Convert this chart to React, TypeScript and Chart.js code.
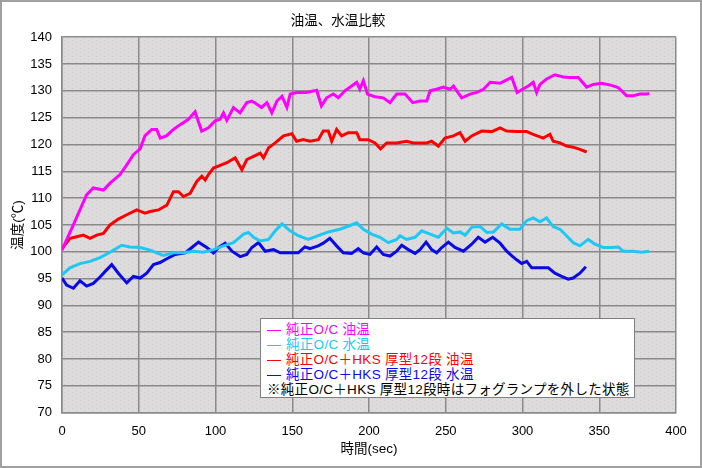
import { useEffect, useRef } from "react";
import { Chart, registerables, type ChartConfiguration, type Plugin } from "chart.js";

Chart.register(...registerables);

// [sec, °C]
const stockOil: Array<[number, number]> = [
  [0, 100.3], [7.4, 105], [16, 110.6], [20.4, 111.9], [27, 111.5], [31.3, 112.8], [37.8, 114.4],
  [42.2, 116.2], [46.5, 118.1], [50.9, 119.2], [54, 121.6], [58.5, 122.8], [61.7, 122.8], [64, 121.2],
  [68, 121.6], [72.6, 122.8], [77, 123.7], [82.4, 124.7], [86.7, 126.1], [88.3, 124.7], [91, 122.5],
  [95.4, 123.1], [99.8, 124.4], [103, 124.7], [105.2, 125.9], [107.4, 124.5], [111.7, 126.9],
  [116, 125.9], [120.4, 127.8], [123.7, 128.1], [127, 127.5], [130, 126.9], [133.5, 127.8],
  [136.7, 125.9], [140, 128.1], [143.3, 129], [146.5, 126.9], [148.7, 129.4], [152.8, 129.7],
  [159, 129.7], [165.9, 130.1], [169, 127.2], [172.4, 128.7], [176.7, 129.4], [180, 128.7],
  [184.3, 130], [188.7, 130.9], [192, 131.6], [194, 130.3], [196.3, 131.9], [199, 129.4],
  [203.9, 128.9], [209.3, 128.7], [213.7, 127.8], [218, 129.4], [223.5, 129.4], [228.5, 127.8],
  [233.3, 128.1], [237.6, 128.1], [239.8, 130], [244, 130.3], [248.5, 130.7], [252.8, 130.3],
  [255, 130.9], [260.4, 128.7], [265.9, 129.4], [270.2, 129.7], [274.6, 130.3], [278.9, 131.6],
  [285.4, 131.4], [288.7, 131.9], [293, 132.5], [296.5, 129.7], [300, 130.3], [303.8, 130.9],
  [307, 131.6], [309.2, 129.7], [311.4, 131.2], [315.7, 132.2], [321.1, 133], [326.6, 132.6],
  [330.9, 132.5], [336.4, 132.5], [341.8, 130.7], [346.1, 131.2], [351.6, 131.4], [357, 131.1],
  [362.4, 130.6], [367.8, 129.1], [372.2, 129.1], [376.5, 129.4], [380.9, 129.4], [382.6, 129.5],
];

const stockWater: Array<[number, number]> = [
  [0, 95.7], [5.2, 97], [11.7, 97.8], [18.3, 98.2], [24.8, 98.9], [31.3, 99.9], [38.9, 101.2],
  [44.3, 100.9], [50.9, 100.8], [57.4, 100.3], [61.7, 99.8], [66.1, 99.3], [72.6, 99.8],
  [79.1, 99.8], [85.7, 100.1], [92.2, 99.9], [98.7, 100.4], [105.2, 101.1], [111.7, 101.7],
  [118.3, 103.3], [121.5, 103.6], [124.8, 102.7], [129.1, 102], [134.6, 102.3], [138.9, 103.9],
  [143.3, 105.2], [148.6, 103.9], [153.9, 103], [160.4, 102.3], [166.9, 103], [173.5, 103.7],
  [181.1, 104.2], [187.6, 104.9], [192, 105.4], [196.3, 104.2], [201.7, 103.3], [207.2, 102.7],
  [212.6, 101.7], [218, 102.3], [220.2, 103], [224.5, 102.3], [230, 102.7], [234.3, 103.9],
  [239.8, 103.3], [245.2, 102.7], [250.7, 104.4], [255, 103.5], [259.4, 103.7], [262.6, 103.1],
  [267, 104.6], [272.4, 104.7], [276.8, 103.6], [281.1, 103.7], [286.5, 105.2], [291.8, 104.2],
  [298.3, 104.2], [302.7, 105.8], [307, 106.3], [311.4, 105.6], [315.7, 106.3], [320, 104.7],
  [324.4, 104.2], [328.7, 103], [333, 101.7], [337.4, 101.1], [342.8, 102.3], [347.2, 101.4],
  [352.6, 100.8], [358, 100.8], [362.4, 100.9], [365.6, 100.1], [372.2, 100.1], [377.6, 99.9],
  [382.6, 100.1],
];

const hksOil: Array<[number, number]> = [
  [0, 100.6], [5.2, 102.5], [9.6, 102.8], [13.9, 103.1], [18.3, 102.5], [22.6, 103.1], [27, 103.4],
  [31.3, 105], [36.7, 106.1], [42.2, 106.9], [48.7, 107.8], [54.1, 107.2], [57.4, 107.5],
  [62.8, 107.8], [68.3, 108.7], [72.6, 111.2], [75.9, 111.2], [79.1, 110.3], [83.5, 110.9],
  [87.8, 113.1], [91.1, 114.1], [93.3, 113.4], [95.4, 114.4], [98.7, 115.6], [103, 116.1],
  [107.4, 116.6], [112.8, 117.5], [117.2, 115.3], [120.4, 117.2], [124.8, 117.8], [129.1, 118.4],
  [131.3, 117.5], [134.6, 119.4], [138.9, 120.3], [144.3, 121.6], [149.8, 122], [152.8, 120.6],
  [157.2, 120.9], [161.5, 120.6], [167, 120.9], [170.2, 122.5], [173.5, 122.5], [175.7, 120.6],
  [178.9, 122.8], [182.2, 121.6], [186.5, 122.2], [192, 122.2], [194, 120.9], [199.5, 120.9],
  [203.9, 120.3], [207.5, 119.2], [211.5, 120.3], [218, 120.3], [224.5, 120.6], [228.9, 120.3],
  [232.1, 120.3], [237.6, 120.3], [240.8, 120.6], [245.2, 119.7], [249.5, 121.2], [255, 121.6],
  [259.3, 122.2], [262.6, 120.6], [266.9, 121.6], [273.4, 122.5], [280, 122.4], [285.4, 123.1],
  [289.7, 122.5], [296.2, 122.4], [302.7, 122.4], [307, 121.9], [313.5, 121.2], [317.9, 121.9],
  [320, 120.6], [324.4, 120.3], [328.7, 119.7], [333, 119.5], [337.4, 119.1], [341.8, 118.6],
];

const hksWater: Array<[number, number]> = [
  [0, 95.1], [3, 93.8], [7.4, 93.2], [11.7, 94.6], [16.1, 93.6], [20.4, 94.1], [24.8, 95.3],
  [28, 96.3], [32.4, 97.6], [36.7, 96], [42.2, 94.2], [46.5, 95.4], [50.9, 95.1], [55.2, 96],
  [59.6, 97.6], [63.9, 98], [68.3, 98.7], [73.7, 99.5], [80.2, 99.8], [84.6, 100.8], [88.9, 101.8],
  [94.3, 100.8], [98.7, 99.8], [102, 100.8], [106.3, 101.6], [110.7, 100.1], [116.1, 99.1],
  [120.4, 99.5], [123.7, 100.8], [128, 101.7], [132.4, 100.1], [137.8, 100.4], [142.2, 99.8],
  [148.6, 99.8], [153.9, 99.8], [158.2, 100.9], [161.5, 100.6], [166.9, 101.1], [170.2, 101.6],
  [174.5, 102.5], [178.9, 101.1], [183.2, 99.8], [188.7, 99.7], [193, 100.6], [196.3, 99.8],
  [200.6, 99.5], [205, 100.9], [209.3, 99.5], [213.7, 99.2], [218, 100.1], [221.3, 101.2],
  [225.6, 100.4], [230, 99.7], [233.2, 100.4], [237.2, 101.8], [240.8, 100.4], [244.1, 99.8],
  [247.4, 100.8], [251.7, 101.8], [256, 100.8], [261.5, 100.1], [266.9, 101.4], [271.2, 102.7],
  [275.6, 101.8], [280.6, 102.7], [285.4, 101.6], [289.7, 100.1], [292.9, 99.3], [296.2, 98.5],
  [299.5, 97.8], [302.7, 98.2], [306, 97], [311.4, 97], [316.8, 97], [321.1, 96], [325.5, 95.4],
  [329.8, 94.9], [333, 95.1], [337.4, 96], [341.3, 97.2],
];

const seriesLabels = [
  "純正O/C 油温",
  "純正O/C 水温",
  "純正O/C＋HKS 厚型12段 油温",
  "純正O/C＋HKS 厚型12段 水温",
];
const seriesColors = ["#ff00ff", "#1ec8f5", "#ff0000", "#0a0ae6"];
const seriesData = [stockOil, stockWater, hksOil, hksWater];
const legendNote = "※純正O/C＋HKS 厚型12段時はフォグランプを外した状態";

const FONT = '"Liberation Sans", "Noto Sans CJK JP", sans-serif';

// faint dotted fill like the old spreadsheet plot area
function makeDots(ctx: CanvasRenderingContext2D) {
  const tile = document.createElement("canvas");
  tile.width = 8;
  tile.height = 4;
  const t = tile.getContext("2d")!;
  t.fillStyle = "#dcdcdc";
  t.fillRect(0, 0, 8, 4);
  t.fillStyle = "#d2c6cc";
  t.fillRect(0, 0, 1, 1);
  t.fillRect(4, 2, 1, 1);
  return ctx.createPattern(tile, "repeat") ?? "#dcdcdc";
}

const frame: Plugin<"line"> = {
  id: "frame",
  beforeDraw(chart) {
    const { ctx, chartArea: a, width, height } = chart;
    ctx.save();
    ctx.fillStyle = "#ffffff";
    ctx.fillRect(0, 0, width, height);
    ctx.fillStyle = makeDots(ctx);
    ctx.fillRect(a.left, a.top, a.right - a.left, a.bottom - a.top);
    ctx.restore();
  },
  afterDraw(chart) {
    const { ctx, width, height } = chart;
    ctx.save();
    ctx.strokeStyle = "#a0a0a0";
    ctx.lineWidth = 2;
    ctx.strokeRect(1, 1, width - 2, height - 2);
    ctx.restore();
  },
};

export default function App() {
  const canvasRef = useRef<HTMLCanvasElement>(null);

  useEffect(() => {
    if (!canvasRef.current) return;

    const config: ChartConfiguration<"line", { x: number; y: number }[]> = {
      type: "line",
      data: {
        datasets: seriesData.map((pts, i) => ({
          label: seriesLabels[i],
          data: pts.map(([x, y]) => ({ x, y })),
          borderColor: seriesColors[i],
          backgroundColor: seriesColors[i],
          borderWidth: 3,
          pointRadius: 0,
          tension: 0,
        })),
      },
      options: {
        animation: false,
        responsive: false,
        layout: { padding: { left: 0, right: 26, top: 0, bottom: 0 } },
        plugins: {
          legend: { display: false },
          tooltip: { enabled: false },
          title: {
            display: true,
            text: "油温、水温比較",
            color: "#000",
            font: { family: FONT, size: 13.5, weight: "normal" },
            padding: { top: 13, bottom: 8 },
          },
        },
        scales: {
          x: {
            type: "linear",
            min: 0,
            max: 400,
            afterFit: (scale) => {
              scale.height = 55.3;
            },
            ticks: {
              stepSize: 50,
              padding: 11,
              color: "#000",
              font: { family: FONT, size: 13 },
            },
            grid: { color: "#8a8a8a", lineWidth: 1.5, drawTicks: false },
            border: { color: "#8a8a8a", width: 1.5 },
            title: {
              display: true,
              text: "時間(sec)",
              color: "#000",
              font: { family: FONT, size: 13.5 },
              padding: { top: 0, bottom: 11 },
            },
          },
          y: {
            type: "linear",
            min: 70,
            max: 140,
            afterFit: (scale) => {
              scale.width = 62;
            },
            ticks: {
              stepSize: 5,
              padding: 10,
              color: "#000",
              font: { family: FONT, size: 13 },
            },
            grid: { color: "#8a8a8a", lineWidth: 1.5, drawTicks: false },
            border: { color: "#8a8a8a", width: 1.5 },
            title: {
              display: true,
              text: "温度(℃)",
              color: "#000",
              font: { family: FONT, size: 13.5 },
              padding: { top: 10, bottom: 0 },
            },
          },
        },
      },
      plugins: [frame],
    };

    const chart = new Chart(canvasRef.current, config);
    return () => chart.destroy();
  }, []);

  return (
    <div style={{ position: "absolute", left: 0, top: 0, width: 702, height: 468 }}>
      <canvas ref={canvasRef} width={702} height={468} style={{ display: "block" }} />
      <div
        style={{
          position: "absolute",
          left: 260,
          top: 318,
          width: 375,
          height: 80,
          boxSizing: "border-box",
          background: "#fff",
          border: "1px solid #808080",
          padding: "3px 0 0 6px",
          fontFamily: FONT,
          fontSize: 13.5,
          lineHeight: "15px",
          letterSpacing: "0.3px",
        }}
      >
        {seriesLabels.map((label, i) => (
          <div key={label} style={{ color: seriesColors[i], whiteSpace: "nowrap" }}>
            <span
              style={{
                display: "inline-block",
                width: 14,
                height: 0,
                borderTop: `1.5px solid ${seriesColors[i]}`,
                verticalAlign: "middle",
                marginRight: 5,
              }}
            />
            {label}
          </div>
        ))}
        <div style={{ color: "#000", whiteSpace: "nowrap" }}>{legendNote}</div>
      </div>
    </div>
  );
}
